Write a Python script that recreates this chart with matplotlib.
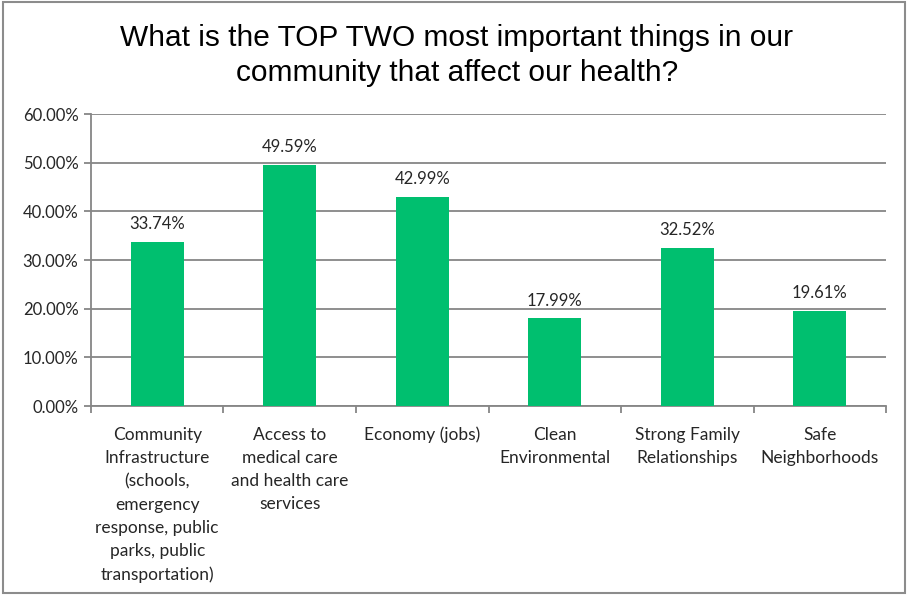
import matplotlib
matplotlib.use('Agg')
import matplotlib.pyplot as plt
from matplotlib.patches import Rectangle
from matplotlib.ticker import FuncFormatter

categories = [
    "Community\nInfrastructure\n(schools,\nemergency\nresponse, public\nparks, public\ntransportation)",
    "Access to\nmedical care\nand health care\nservices",
    "Economy (jobs)",
    "Clean\nEnvironmental",
    "Strong Family\nRelationships",
    "Safe\nNeighborhoods",
]
shares = [33.74, 49.59, 42.99, 17.99, 32.52, 19.61]
y_ticks = [0, 10, 20, 30, 40, 50, 60]

title = "What is the TOP TWO most important things in our\ncommunity that affect our health?"

bar_color = '#00BF6F'
grid_color = '#868686'
text_color = '#262626'
label_font = 'Lato'

fig = plt.figure(figsize=(9.08, 5.95), dpi=100)
ax = fig.add_axes([0.1002, 0.3176, 0.8756, 0.4908])

x = list(range(len(categories)))
bars = ax.bar(x, shares, width=0.4, color=bar_color, zorder=3)

for xi, v in zip(x, shares):
    ax.annotate(f"{v:.2f}%", (xi, v), xytext=(0, 7), textcoords='offset points',
                ha='center', va='bottom', fontsize=12, family=label_font,
                color=text_color)

ax.set_xlim(-0.5, len(categories) - 0.5)
ax.set_ylim(0, 60)
ax.set_yticks(y_ticks)
ax.yaxis.set_major_formatter(FuncFormatter(lambda v, _: f"{v:.2f}%"))
ax.yaxis.grid(True, color=grid_color, linewidth=1.3, zorder=0)

# category boundaries carry the tick marks, labels sit at the centres
ax.set_xticks([i - 0.5 for i in range(len(categories) + 1)])
ax.set_xticklabels([])
ax.set_xticks(x, minor=True)
ax.set_xticklabels(categories, minor=True, fontsize=12.5, family=label_font,
                   color=text_color, linespacing=1.55, va='top')
ax.tick_params(axis='x', which='minor', length=0, pad=15)
ax.tick_params(axis='x', which='major', length=5, color=grid_color, width=1.3)
ax.tick_params(axis='y', length=5, color=grid_color, width=1.3, labelsize=12,
               labelcolor=text_color, pad=4)
for lbl in ax.get_yticklabels():
    lbl.set_family(label_font)

for side in ('top', 'right'):
    ax.spines[side].set_visible(False)
for side in ('left', 'bottom'):
    ax.spines[side].set_color(grid_color)
    ax.spines[side].set_linewidth(1.3)

fig.text(0.503, 0.907, title, ha='center', va='center', fontsize=21.5,
         family='Liberation Sans', color='black', linespacing=1.32)

# chart frame
fig.patches.append(Rectangle((0.003, 0.004), 0.994, 0.992, transform=fig.transFigure,
                             fill=False, edgecolor='#8c8c8c', linewidth=1.5))

fig.savefig('out.png', dpi=100)
